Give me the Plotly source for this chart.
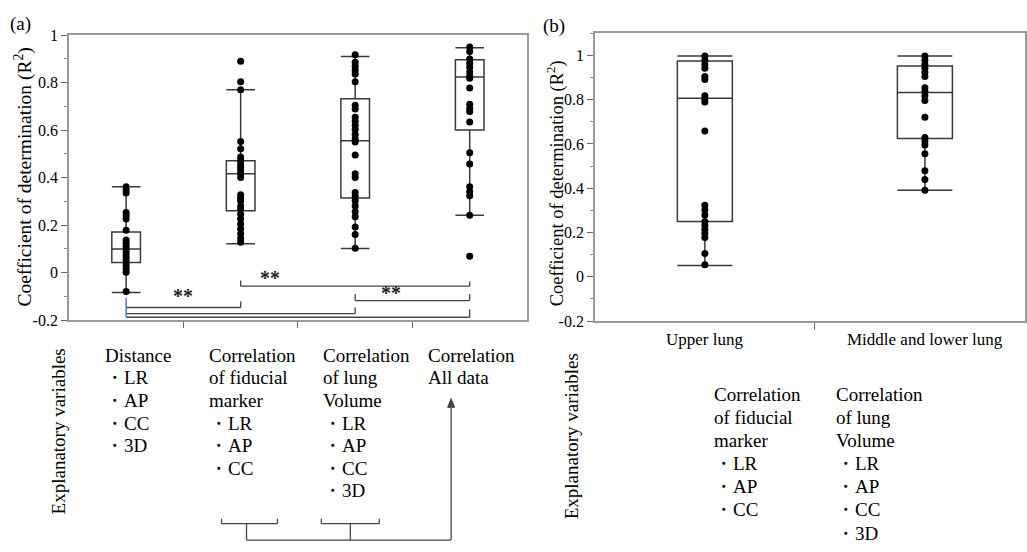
import plotly.graph_objects as go

W, H = 1027, 552

# ---------------- data: panel (a) ----------------
positions_a = [1, 2, 3, 4]
points_distance = [0.362, 0.348, 0.335, 0.253, 0.240, 0.226, 0.178, 0.137, 0.124, 0.110,
                   0.097, 0.083, 0.069, 0.056, 0.042, 0.029, 0.015, 0.001, -0.080]
points_fiducial = [0.890, 0.804, 0.770, 0.552, 0.522, 0.487, 0.473, 0.457, 0.444, 0.430,
                   0.416, 0.400, 0.328, 0.314, 0.301, 0.280, 0.267, 0.246, 0.226, 0.205,
                   0.185, 0.164, 0.144, 0.128]
points_volume = [0.917, 0.886, 0.868, 0.852, 0.836, 0.804, 0.705, 0.689, 0.654, 0.637,
                 0.620, 0.603, 0.582, 0.563, 0.550, 0.495, 0.416, 0.400, 0.337, 0.321,
                 0.303, 0.280, 0.256, 0.235, 0.192, 0.160, 0.103]
points_all = [0.950, 0.931, 0.899, 0.882, 0.865, 0.845, 0.827, 0.818, 0.777, 0.709,
              0.691, 0.678, 0.634, 0.505, 0.457, 0.362, 0.342, 0.324, 0.242, 0.069]
q1_a = [0.042, 0.260, 0.314, 0.600]
median_a = [0.099, 0.416, 0.555, 0.824]
q3_a = [0.171, 0.471, 0.732, 0.896]
lower_a = [-0.084, 0.121, 0.101, 0.242]
upper_a = [0.362, 0.770, 0.910, 0.947]

# ---------------- data: panel (b) ----------------
categories_b = ["Upper lung", "Middle and lower lung"]
positions_b = [1, 2]
points_upper = [0.997, 0.978, 0.959, 0.942, 0.905, 0.891, 0.818, 0.803, 0.789, 0.658,
                0.323, 0.301, 0.279, 0.250, 0.231, 0.214, 0.197, 0.177, 0.105, 0.054]
points_lower = [0.997, 0.978, 0.959, 0.942, 0.924, 0.905, 0.854, 0.837, 0.818, 0.796,
                0.720, 0.629, 0.614, 0.595, 0.556, 0.479, 0.439, 0.391]
q1_b = [0.250, 0.624]
median_b = [0.806, 0.832]
q3_b = [0.974, 0.952]
lower_b = [0.051, 0.391]
upper_b = [0.997, 0.997]

tick_vals = [-0.2, 0, 0.2, 0.4, 0.6, 0.8, 1]
tick_text = ["-0.2", "0", "0.2", "0.4", "0.6", "0.8", "1"]

SERIF = "Liberation Serif"
BOXLINE = "#3a3a3a"
AXCOL = "#9a9a9a"

def px(x):
    return x / W

def py(y):
    return 1 - y / H

fig = go.Figure()

fig.add_trace(go.Box(x=positions_a, q1=q1_a, median=median_a, q3=q3_a,
                     lowerfence=lower_a, upperfence=upper_a, width=0.25,
                     whiskerwidth=1, fillcolor="white",
                     line=dict(color=BOXLINE, width=1.5), boxpoints=False,
                     xaxis="x", yaxis="y", showlegend=False, hoverinfo="skip"))
for pos, vals in zip(positions_a, [points_distance, points_fiducial, points_volume, points_all]):
    fig.add_trace(go.Scatter(x=[pos] * len(vals), y=vals, mode="markers",
                             marker=dict(color="black", size=7),
                             xaxis="x", yaxis="y", showlegend=False))

fig.add_trace(go.Box(x=positions_b, q1=q1_b, median=median_b, q3=q3_b,
                     lowerfence=lower_b, upperfence=upper_b, width=0.25,
                     whiskerwidth=1, fillcolor="white",
                     line=dict(color=BOXLINE, width=1.5), boxpoints=False,
                     xaxis="x2", yaxis="y2", showlegend=False, hoverinfo="skip"))
for pos, vals in zip(positions_b, [points_upper, points_lower]):
    fig.add_trace(go.Scatter(x=[pos] * len(vals), y=vals, mode="markers",
                             marker=dict(color="black", size=7),
                             xaxis="x2", yaxis="y2", showlegend=False))

shapes = []
LC = "#444444"

def seg(x0, y0, x1, y1, color=LC, width=1.3, ref="data"):
    if ref == "data":
        shapes.append(dict(type="line", xref="x", yref="y", x0=x0, y0=y0, x1=x1, y1=y1,
                           line=dict(color=color, width=width)))
    else:
        shapes.append(dict(type="line", xref="paper", yref="paper",
                           x0=px(x0), y0=py(y0), x1=px(x1), y1=py(y1),
                           line=dict(color=color, width=width)))

# significance brackets (panel a data coords)
seg(1, -0.147, 2, -0.147)
seg(2, -0.147, 2, -0.122)
seg(2, -0.057, 4, -0.057)
seg(2, -0.057, 2, -0.033)
seg(4, -0.057, 4, -0.037)
seg(3, -0.118, 4, -0.118)
seg(3, -0.118, 3, -0.090)
seg(4, -0.118, 4, -0.090)
seg(1, -0.173, 3, -0.173)
seg(3, -0.173, 3, -0.147)
seg(1, -0.188, 4, -0.188)
seg(4, -0.188, 4, -0.155)
seg(1, -0.106, 1, -0.188, color="#3a66d6", width=1.3)

# grouping brackets under panel a
seg(222, 527, 222, 532, ref="paper")
seg(222, 532, 278, 532, ref="paper")
seg(278, 527, 278, 532, ref="paper")
seg(247, 532, 247, 549, ref="paper")
seg(322, 527, 322, 532, ref="paper")
seg(322, 532, 380, 532, ref="paper")
seg(380, 527, 380, 532, ref="paper")
seg(351, 532, 351, 549, ref="paper")
seg(247, 549, 452, 549, ref="paper")
seg(452, 549, 452, 410, ref="paper")
arrow_pts = [(448.5, 412), (452, 403), (455.5, 412)]
shapes.append(dict(type="path", xref="paper", yref="paper",
                   path="M " + " L ".join(f"{px(a):.5f},{py(b):.5f}" for a, b in arrow_pts) + " Z",
                   fillcolor=LC, line=dict(color=LC, width=1)))

ann = []

def text(x, y, s, size=19, xanchor="left", angle=0):
    ann.append(dict(x=px(x), y=py(y), xref="paper", yref="paper", text=s,
                    showarrow=False, xanchor=xanchor, yanchor="middle",
                    textangle=angle, font=dict(family=SERIF, size=size, color="black")))

def block(x, y0, lines, step, size=19):
    for i, s in enumerate(lines):
        text(x, y0 + i * step, s, size=size)

for xs, ys in [(1.5, -0.098), (2.26, -0.022), (3.31, -0.088)]:
    ann.append(dict(x=xs, y=ys, xref="x", yref="y", text="<b>**</b>", showarrow=False,
                    font=dict(family=SERIF, size=20, color="#222222"), yanchor="middle"))

text(21, 17, "(a)", size=19, xanchor="center")
text(555, 19, "(b)", size=19, xanchor="center")
text(24, 174, "Coefficient of determination (R<sup>2</sup>)", size=19.5, xanchor="center", angle=-90)
text(557, 181, "Coefficient of determination (R<sup>2</sup>)", size=18.5, xanchor="center", angle=-90)

for pos, lab in zip(positions_b, categories_b):
    ann.append(dict(x=pos, y=py(342), xref="x2", yref="paper", text=lab, showarrow=False,
                    xanchor="center", yanchor="middle",
                    font=dict(family=SERIF, size=17, color="black")))

text(59, 437, "Explanatory variables", size=19, xanchor="center", angle=-90)
STEP_A = 23.3
block(103, 358.3, ["Distance", "・LR", "・AP", "・CC", "・3D"], STEP_A)
block(207, 358.3, ["Correlation", "of fiducial", "marker", "・LR", "・AP", "・CC"], STEP_A)
block(322, 358.3, ["Correlation", "of lung", "Volume", "・LR", "・AP", "・CC", "・3D"], STEP_A)
block(427, 358.3, ["Correlation", "All data"], STEP_A)

text(573, 442, "Explanatory variables", size=19, xanchor="center", angle=-90)
STEP_B = 23.9
block(713, 398.3, ["Correlation", "of fiducial", "marker", "・LR", "・AP", "・CC"], STEP_B)
block(836, 398.3, ["Correlation", "of lung", "Volume", "・LR", "・AP", "・CC", "・3D"], STEP_B)

axis_common = dict(showgrid=False, zeroline=False, showline=True, linecolor=AXCOL,
                   linewidth=1.5, mirror=True)

fig.update_layout(
    width=W, height=H,
    margin=dict(l=0, r=0, t=0, b=0),
    paper_bgcolor="white", plot_bgcolor="white",
    font=dict(family=SERIF, color="black"),
    showlegend=False,
    shapes=shapes, annotations=ann,
    xaxis=dict(domain=[px(69), px(528)], range=[0.5, 4.5], anchor="y",
               tickvals=[1.5, 2.5, 3.5], showticklabels=False, ticks="outside",
               ticklen=6, tickcolor="#666", **axis_common),
    yaxis=dict(domain=[py(322), py(28)], range=[-0.2, 1], anchor="x",
               tickvals=tick_vals, ticktext=tick_text, ticks="outside", ticklen=6,
               tickcolor="#666",
               minor=dict(ticks="outside", ticklen=3, dtick=0.1, tick0=0, tickcolor="#888"),
               tickfont=dict(family=SERIF, size=16, color="black"), **axis_common),
    xaxis2=dict(domain=[px(596), 1.0], range=[0.5, 2.455], anchor="y2",
                tickvals=[1.5], showticklabels=False, ticks="outside", ticklen=7,
                tickcolor="#666", **axis_common),
    yaxis2=dict(domain=[py(323), py(26)], range=[-0.2, 1.1], anchor="x2",
                tickvals=tick_vals, ticktext=tick_text, ticks="outside", ticklen=6,
                tickcolor="#666",
                minor=dict(ticks="outside", ticklen=3, dtick=0.1, tick0=0, tickcolor="#888"),
                tickfont=dict(family=SERIF, size=16, color="black"), **axis_common),
)

fig.write_html("out.html", config={"displayModeBar": False},
               post_script="document.body.style.margin='0';document.body.style.overflow='hidden';")
